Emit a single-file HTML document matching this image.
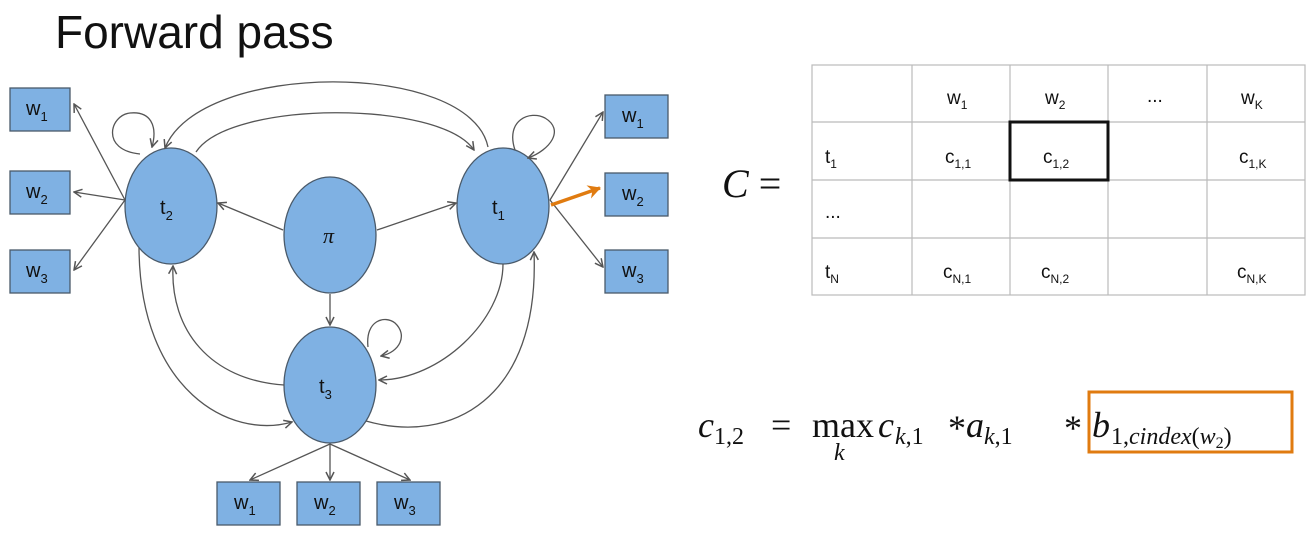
<!DOCTYPE html>
<html><head><meta charset="utf-8"><style>
html,body{margin:0;padding:0;background:#fff;}
svg{display:block;}
</style></head><body>
<svg width="1314" height="559" viewBox="0 0 1314 559" xmlns="http://www.w3.org/2000/svg" font-family="Liberation Sans, sans-serif">
<defs>
<marker id="a" markerWidth="10" markerHeight="10" refX="9" refY="5" orient="auto" markerUnits="userSpaceOnUse">
<path d="M1,1 L9,5 L1,9" fill="none" stroke="#555" stroke-width="1.5"/>
</marker>
<marker id="o" markerWidth="14" markerHeight="14" refX="12" refY="7" orient="auto" markerUnits="userSpaceOnUse">
<path d="M0,0 L13,7 L0,14 L4,7 Z" fill="#e07b10"/>
</marker>
</defs>
<text x="55" y="48" font-size="46" fill="#111">Forward pass</text>

<g fill="#7fb1e3" stroke="#4a5a6a" stroke-width="1.3">
<ellipse cx="171" cy="206" rx="46" ry="58"/>
<ellipse cx="503" cy="206" rx="46" ry="58"/>
<ellipse cx="330" cy="235" rx="46" ry="58"/>
<ellipse cx="330" cy="385" rx="46" ry="58"/>
<rect x="10" y="88" width="60" height="43"/>
<rect x="10" y="171" width="60" height="43"/>
<rect x="10" y="250" width="60" height="43"/>
<rect x="605" y="95" width="63" height="43"/>
<rect x="605" y="173" width="63" height="43"/>
<rect x="605" y="250" width="63" height="43"/>
<rect x="217" y="482" width="63" height="43"/>
<rect x="297" y="482" width="63" height="43"/>
<rect x="377" y="482" width="63" height="43"/>
</g>

<g stroke="#555" stroke-width="1.3" fill="none" marker-end="url(#a)">
<line x1="125" y1="200" x2="74" y2="104"/>
<line x1="125" y1="200" x2="74" y2="192"/>
<line x1="125" y1="200" x2="74" y2="270"/>
<line x1="550" y1="200" x2="603" y2="112"/>
<line x1="550" y1="200" x2="603" y2="267"/>
<line x1="283" y1="230" x2="218" y2="203"/>
<line x1="377" y1="230" x2="456" y2="203"/>
<line x1="330" y1="294" x2="330" y2="325"/>
<line x1="330" y1="444" x2="250" y2="480"/>
<line x1="330" y1="444" x2="330" y2="480"/>
<line x1="330" y1="444" x2="410" y2="480"/>
<path d="M140,154 C100,150 110,115 130,113 C150,111 158,125 152,147"/>
<path d="M515,150 C505,120 530,110 545,118 C565,130 550,150 528,158"/>
<path d="M368,347 C365,320 385,315 395,323 C408,335 400,352 381,356"/>
<path d="M488,147 C470,60 200,60 165,148"/>
<path d="M196,152 C230,100 440,100 474,150"/>
<path d="M139,248 C140,390 230,440 292,422"/>
<path d="M284,385 C210,380 170,330 173,266"/>
<path d="M503,264 C503,320 440,380 379,380"/>
<path d="M366,421 C450,445 540,400 534,252"/>
</g>
<line x1="551" y1="205" x2="600" y2="188" stroke="#e07b10" stroke-width="3.5" marker-end="url(#o)"/>

<g font-size="20" fill="#111">
<text x="160" y="214">t<tspan font-size="13" dy="6">2</tspan></text>
<text x="492" y="214">t<tspan font-size="13" dy="6">1</tspan></text>
<text x="319" y="393">t<tspan font-size="13" dy="6">3</tspan></text>
<text x="323" y="243" font-family="Liberation Serif, serif" font-style="italic" font-size="22">π</text>
<text x="26" y="115">w<tspan font-size="13" dy="6">1</tspan></text>
<text x="26" y="198">w<tspan font-size="13" dy="6">2</tspan></text>
<text x="26" y="277">w<tspan font-size="13" dy="6">3</tspan></text>
<text x="622" y="122">w<tspan font-size="13" dy="6">1</tspan></text>
<text x="622" y="200">w<tspan font-size="13" dy="6">2</tspan></text>
<text x="622" y="277">w<tspan font-size="13" dy="6">3</tspan></text>
<text x="234" y="509">w<tspan font-size="13" dy="6">1</tspan></text>
<text x="314" y="509">w<tspan font-size="13" dy="6">2</tspan></text>
<text x="394" y="509">w<tspan font-size="13" dy="6">3</tspan></text>
</g>

<g stroke="#bbb" stroke-width="1.2" fill="none">
<rect x="812" y="65" width="493" height="230"/>
<line x1="912" y1="65" x2="912" y2="295"/>
<line x1="1010" y1="65" x2="1010" y2="295"/>
<line x1="1108" y1="65" x2="1108" y2="295"/>
<line x1="1207" y1="65" x2="1207" y2="295"/>
<line x1="812" y1="122" x2="1305" y2="122"/>
<line x1="812" y1="180" x2="1305" y2="180"/>
<line x1="812" y1="238" x2="1305" y2="238"/>
</g>
<rect x="1010" y="122" width="98" height="58" fill="none" stroke="#111" stroke-width="3"/>
<g font-size="19" fill="#111">
<text x="947" y="104">w<tspan font-size="12" dy="5">1</tspan></text>
<text x="1045" y="104">w<tspan font-size="12" dy="5">2</tspan></text>
<text x="1147" y="102">...</text>
<text x="1241" y="104">w<tspan font-size="12" dy="5">K</tspan></text>
<text x="825" y="163">t<tspan font-size="12" dy="5">1</tspan></text>
<text x="945" y="163">c<tspan font-size="12" dy="5">1,1</tspan></text>
<text x="1043" y="163">c<tspan font-size="12" dy="5">1,2</tspan></text>
<text x="1239" y="163">c<tspan font-size="12" dy="5">1,K</tspan></text>
<text x="825" y="218">...</text>
<text x="825" y="278">t<tspan font-size="12" dy="5">N</tspan></text>
<text x="943" y="278">c<tspan font-size="12" dy="5">N,1</tspan></text>
<text x="1041" y="278">c<tspan font-size="12" dy="5">N,2</tspan></text>
<text x="1237" y="278">c<tspan font-size="12" dy="5">N,K</tspan></text>
</g>
<text x="722" y="197" font-family="Liberation Serif, serif" font-size="40" fill="#111"><tspan font-style="italic">C</tspan> =</text>

<g font-family="Liberation Serif, serif" fill="#111" font-size="36">
<text x="698" y="437" font-style="italic">c</text>
<text x="714" y="444" font-size="24">1,2</text>
<text x="771" y="437">=</text>
<text x="812" y="437">max</text>
<text x="834" y="460" font-style="italic" font-size="24">k</text>
<text x="878" y="437" font-style="italic">c</text>
<text x="895" y="444" font-size="24"><tspan font-style="italic">k</tspan>,1</text>
<text x="948" y="440">*</text>
<text x="966" y="437" font-style="italic">a</text>
<text x="984" y="444" font-size="24"><tspan font-style="italic">k</tspan>,1</text>
<text x="1064" y="440">*</text>
<text x="1092" y="437" font-style="italic">b</text>
<text x="1111" y="444" font-size="24">1,<tspan font-style="italic">cindex</tspan>(<tspan font-style="italic">w</tspan><tspan font-size="16" dy="4">2</tspan><tspan dy="-4">)</tspan></text>
</g>
<rect x="1089" y="392" width="203" height="60" fill="none" stroke="#e07b10" stroke-width="3"/>
</svg>
</body></html>
